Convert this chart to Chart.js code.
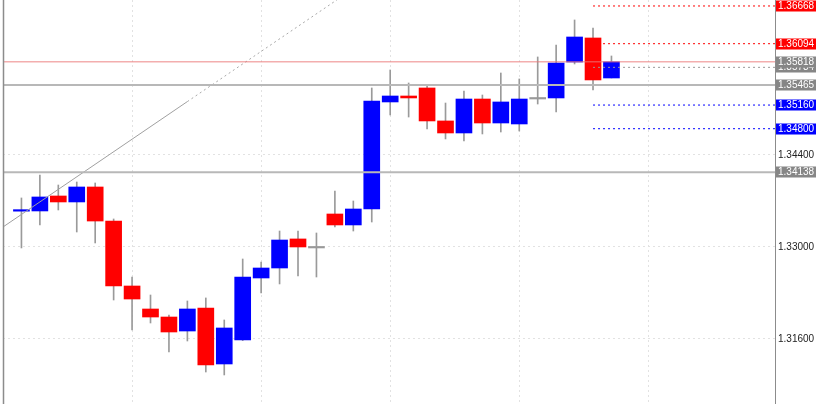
<!DOCTYPE html>
<html>
<head>
<meta charset="utf-8">
<script src="https://cdn.jsdelivr.net/npm/chart.js@4.4.0/dist/chart.umd.min.js"></script>
<style>
  html, body { margin: 0; padding: 0; background: #fff; }
  canvas { display: block; }
</style>
</head>
<body>
<canvas id="myChart" width="817" height="404"></canvas>
<script>
// du lieu nen (OHLC), doc tu hinh
const opens  = [1.33545, 1.33548, 1.33776, 1.33685, 1.33913, 1.33395, 1.32406, 1.32056, 1.31934, 1.31721, 1.32071, 1.31219, 1.31584, 1.32528, 1.32680, 1.33122, 1.32985, 1.33502, 1.33335, 1.33578, 1.35207, 1.35298, 1.35420, 1.34918, 1.34735, 1.35252, 1.34887, 1.34872, 1.35252, 1.35268, 1.35815, 1.36181, 1.35572];
const highs  = [1.33746, 1.34096, 1.33943, 1.33989, 1.33974, 1.33426, 1.32543, 1.32269, 1.31965, 1.32178, 1.32224, 1.31889, 1.32817, 1.32771, 1.33243, 1.33243, 1.33213, 1.33852, 1.33700, 1.35420, 1.35694, 1.35496, 1.35465, 1.35191, 1.35374, 1.35313, 1.35648, 1.35557, 1.35892, 1.36074, 1.36455, 1.36333, 1.35907];
const lows   = [1.32985, 1.33335, 1.33563, 1.33228, 1.33061, 1.32193, 1.31737, 1.31843, 1.31402, 1.31569, 1.31097, 1.31052, 1.31575, 1.32300, 1.32437, 1.32558, 1.32543, 1.33304, 1.33243, 1.33380, 1.35009, 1.34978, 1.34796, 1.34644, 1.34613, 1.34720, 1.34750, 1.34765, 1.35176, 1.35054, 1.35785, 1.35389, 1.35572];
const closes = [1.33550, 1.33761, 1.33685, 1.33913, 1.33395, 1.32406, 1.32208, 1.31934, 1.31706, 1.32056, 1.31204, 1.31767, 1.32543, 1.32680, 1.33106, 1.33000, 1.32985, 1.33335, 1.33578, 1.35222, 1.35298, 1.35268, 1.34918, 1.34735, 1.35252, 1.34887, 1.35207, 1.35252, 1.35252, 1.35800, 1.36196, 1.35542, 1.35818];

// truc gia
const tickValues = [1.31600, 1.33000, 1.34400];
const gridCandles = [6, 13, 20, 27, 34];

// cac muc gia
const lastPrice = 1.35818;
const bidPrice = 1.35734;
const redLevels = [1.36668, 1.36094];
const blueLevels = [1.35160, 1.34800];
const grayLevels = [1.35465, 1.34138];
const levelFrom = 31;

// duong xu huong: [nen, gia]
const trendSolid = [[-1, 1.33304], [9, 1.35213]];
const trendDotted = [[9, 1.35213], [17.3, 1.36797]];

const xMin = -1, xMax = 40.87;
const yMin = 1.30610, yMax = 1.36759;

const RED = '#ff0000';
const BLUE = '#0000ff';
const GRAY_TAG = '#868686';

let bodies = [];
let wicks = [];
let bodyColors = [];
opens.forEach((o, i) => {
    bodies.push({ x: i, y: [o, closes[i]] });
    wicks.push({ x: i, y: [lows[i], highs[i]] });
    if (closes[i] > o) bodyColors.push(BLUE);
    else if (closes[i] < o) bodyColors.push(RED);
    else bodyColors.push('#999999');
});

function levelLine(v, from) {
    return [{ x: from, y: v }, { x: xMax, y: v }];
}
function toPts(arr) {
    return arr.map(p => ({ x: p[0], y: p[1] }));
}

let lineSets = [];
const lineBase = { type: 'line', pointRadius: 0, borderWidth: 1, fill: false, order: 0, tension: 0 };
lineSets.push({ ...lineBase, data: levelLine(lastPrice, xMin), borderColor: 'rgba(235,120,120,0.6)', borderWidth: 1.5 });
grayLevels.forEach(v => {
    lineSets.push({ ...lineBase, data: levelLine(v, xMin), borderColor: '#b8b8b8', borderWidth: 2 });
});
redLevels.forEach(v => {
    lineSets.push({ ...lineBase, data: levelLine(v, levelFrom), borderColor: RED, borderDash: [2, 3] });
});
blueLevels.forEach(v => {
    lineSets.push({ ...lineBase, data: levelLine(v, levelFrom), borderColor: BLUE, borderDash: [2, 3] });
});
lineSets.push({ ...lineBase, data: levelLine(bidPrice, levelFrom), borderColor: '#999999', borderDash: [2, 3] });
lineSets.push({ ...lineBase, data: toPts(trendSolid), borderColor: '#a0a0a0' });
lineSets.push({ ...lineBase, data: toPts(trendDotted), borderColor: '#a8a8a8', borderDash: [2, 3] });

// nhan gia ben phai
let tags = [];
tags.push({ value: bidPrice, color: GRAY_TAG });
redLevels.forEach(v => tags.push({ value: v, color: RED }));
tags.push({ value: lastPrice, color: GRAY_TAG });
grayLevels.forEach(v => tags.push({ value: v, color: GRAY_TAG }));
blueLevels.forEach(v => tags.push({ value: v, color: BLUE }));

const priceTags = {
    id: 'priceTags',
    afterDraw(chart) {
        const { ctx, chartArea, scales: { y } } = chart;
        ctx.save();
        // vien trai
        ctx.strokeStyle = '#8c8c8c';
        ctx.lineWidth = 1.5;
        ctx.beginPath();
        ctx.moveTo(chartArea.left + 0.5, chartArea.top);
        ctx.lineTo(chartArea.left + 0.5, chartArea.bottom);
        ctx.stroke();

        ctx.font = '10px "Liberation Sans", Arial, sans-serif';
        ctx.textBaseline = 'middle';
        tags.forEach(t => {
            const py = Math.round(y.getPixelForValue(t.value));
            ctx.fillStyle = t.color;
            ctx.fillRect(chartArea.right + 1, py - 5.5, 40, 11);
            ctx.fillStyle = '#ffffff';
            ctx.fillText(t.value.toFixed(5), chartArea.right + 3, py + 0.5);
        });
        ctx.restore();
    }
};

Chart.defaults.font.family = '"Liberation Sans", Arial, sans-serif';

const ctx = document.getElementById('myChart');
const myChart = new Chart(ctx, {
    type: 'bar',
    data: {
        datasets: [
            ...lineSets,
            {
                data: bodies,
                backgroundColor: bodyColors,
                barThickness: 16,
                minBarLength: 1.5,
                grouped: false,
                order: 1
            },
            {
                data: wicks,
                backgroundColor: '#9a9a9a',
                barThickness: 1,
                grouped: false,
                order: 2
            }
        ]
    },
    options: {
        responsive: false,
        animation: false,
        devicePixelRatio: 1,
        layout: { padding: { left: 3, top: 0, right: 0, bottom: 0 } },
        plugins: {
            legend: { display: false },
            tooltip: { enabled: false }
        },
        scales: {
            x: {
                type: 'linear',
                min: xMin,
                max: xMax,
                offset: false,
                ticks: { display: false },
                grid: { color: '#e2e2e2', drawTicks: false, offset: false },
                border: { display: false, dash: [2, 3] },
                afterBuildTicks: s => { s.ticks = gridCandles.map(v => ({ value: v })); },
                afterFit: s => { s.height = 0; s.paddingLeft = 0; s.paddingRight = 0; }
            },
            y: {
                type: 'linear',
                position: 'right',
                min: yMin,
                max: yMax,
                ticks: {
                    color: '#222222',
                    padding: 3,
                    font: { size: 10 },
                    callback: v => v.toFixed(5)
                },
                grid: { color: '#e2e2e2', drawTicks: false },
                border: { color: '#8c8c8c', width: 1, dash: [2, 3] },
                afterBuildTicks: s => { s.ticks = tickValues.map(v => ({ value: v })); },
                afterFit: s => { s.width = 42; s.paddingTop = 0; s.paddingBottom = 0; }
            }
        }
    },
    plugins: [priceTags]
});
</script>
</body>
</html>
